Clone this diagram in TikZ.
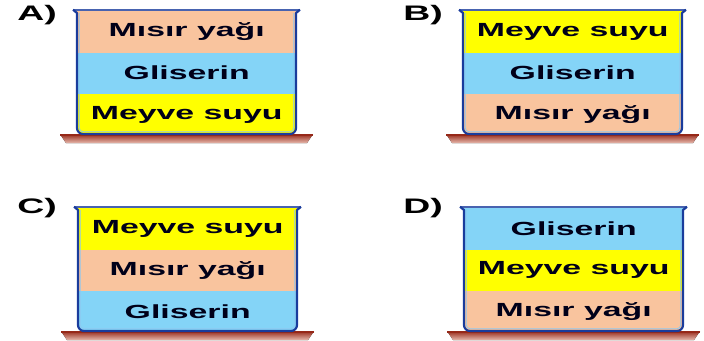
\documentclass[tikz,border=0pt]{standalone}
\usepackage{fontspec}
\newfontfamily\lblfont[FakeStretch=1.78]{Liberation Sans}
\definecolor{oilc}{HTML}{F9C49E}
\definecolor{glyc}{HTML}{84D4F7}
\definecolor{juicec}{HTML}{FFFF00}
\definecolor{wallc}{HTML}{1A3C9C}
\definecolor{hilite}{HTML}{8EC8F0}
\definecolor{shelftop}{HTML}{962818}
\definecolor{shelfbot}{HTML}{E6B8AC}

\tikzset{
  layer/.style={rectangle, inner sep=0pt, minimum width=219pt, minimum height=41.3pt,
    anchor=north west, text=black!90!blue,
    font=\lblfont\bfseries\fontsize{19}{21}\selectfont},
  oil/.style={fill=oilc},
  gly/.style={fill=glyc},
  juice/.style={fill=juicec},
  wall/.style={draw=wallc, line width=2.2pt, line join=round},
  inwall/.style={draw=hilite, line width=0.8pt},
  rim/.style={draw=wallc!80!white, line width=1.3pt},
  shelf/.style={top color=shelftop, bottom color=shelfbot, draw=none},
  choice/.style={font=\lblfont\bfseries\fontsize{21}{23}\selectfont, inner sep=0pt, text=black}
}

% #1 id, #2 left x, #3 top y, #4/#5 top liquid, #6/#7 middle, #8/#9 bottom
\newcommand{\drawbeaker}[9]{%
  % shelf under the beaker
  \fill[shelf] (#2-17,#3+124) -- (#2+236,#3+124) -- (#2+230,#3+133) -- (#2-11,#3+133) -- cycle;
  \draw[shelftop, line width=2pt] (#2-17,#3+125) -- (#2+236,#3+125);
  % liquids, clipped to the round-bottomed glass
  \begin{scope}
    \clip (#2,#3) [rounded corners=6pt] -- (#2,#3+124) -- (#2+219,#3+124) [sharp corners] -- (#2+219,#3) -- cycle;
    \node[layer,#4] (#1a) at (#2,#3+1) {#5};
    \node[layer,#6] (#1b) at (#2,#3+42.3) {#7};
    \node[layer,#8] (#1c) at (#2,#3+83.6) {#9};
  \end{scope}
  % glass
  \draw[inwall] (#2+2.2,#3+3) [rounded corners=4pt] -- (#2+2.2,#3+121.8) -- (#2+216.8,#3+121.8) [sharp corners] -- (#2+216.8,#3+3);
  \draw[rim] (#2-4,#3) -- (#2+223,#3);
  \draw[wall] (#2-4,#3-0.3) -- (#2,#3+3) [rounded corners=6pt] -- (#2,#3+124) -- (#2+219,#3+124) [sharp corners] -- (#2+219,#3+3) -- (#2+223,#3-0.3);
}

\begin{document}
\begin{tikzpicture}[x=1pt,y=-1pt]
  \useasboundingbox (0,0) rectangle (704,340);

  \node[choice] (lA) at (37,15) {A)};
  \node[choice] (lB) at (423,15) {B)};
  \node[choice] (lC) at (37,208) {C)};
  \node[choice] (lD) at (423,208) {D)};

  \drawbeaker{A}{77}{10}{oil}{Mısır yağı}{gly}{Gliserin}{juice}{Meyve suyu}
  \drawbeaker{B}{463}{10}{juice}{Meyve suyu}{gly}{Gliserin}{oil}{Mısır yağı}
  \drawbeaker{C}{78}{207}{juice}{Meyve suyu}{oil}{Mısır yağı}{gly}{Gliserin}
  \drawbeaker{D}{464}{207}{gly}{Gliserin}{juice}{Meyve suyu}{oil}{Mısır yağı}
\end{tikzpicture}
\end{document}
